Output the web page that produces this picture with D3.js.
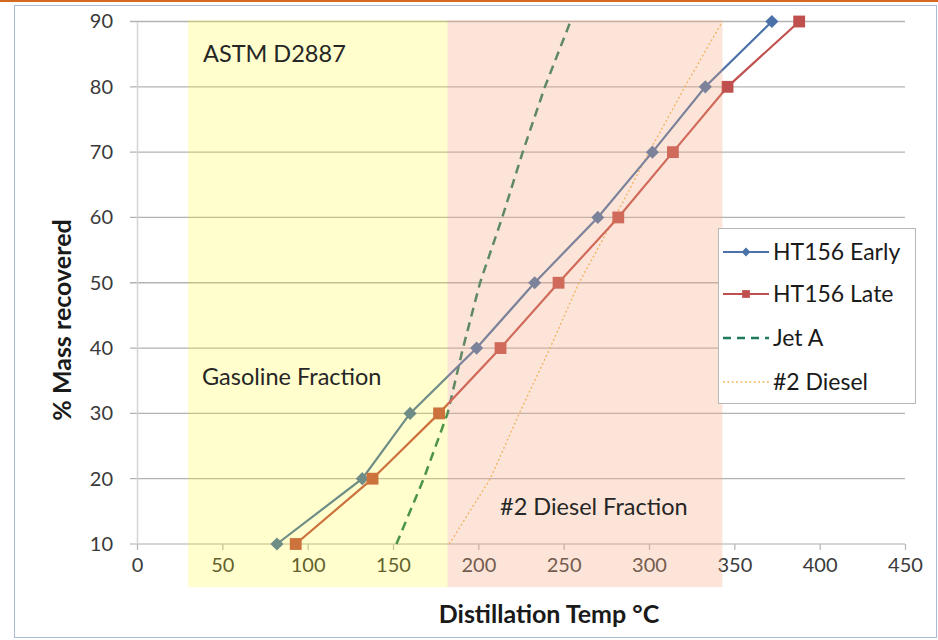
<!DOCTYPE html>
<html>
<head>
<meta charset="utf-8">
<script src="https://cdn.jsdelivr.net/npm/d3@7"></script>
<style>
  body { margin: 0; background: #fff; }
  text { font-family: Lato, "Open Sans", sans-serif; }
</style>
</head>
<body>
<div id="chart"></div>
<script>
var svgWidth = 938;
var svgHeight = 640;

// recovered mass levels (%), shared by every series
var massLevels = [10, 20, 30, 40, 50, 60, 70, 80, 90];

// distillation temperature (deg C)
var earlyTemps = [82, 132, 160, 199, 233, 270, 302, 333, 372];
var lateTemps = [93, 138, 177, 213, 247, 282, 314, 346, 388];
var jetATemps = [152, 168, 182, 191, 201, 214, 226, 239, 254];
var dieselTemps = [183, 207, 224, 242, 259, 280, 300, 321, 343];

var seriesNames = ["HT156 Early", "HT156 Late", "Jet A", "#2 Diesel"];

// shaded fractions (temperature ranges)
var fractionNames = ["Gasoline Fraction", "#2 Diesel Fraction"];
var fractionStart = [30, 182];
var fractionEnd = [182, 343];

var xTicks = [0, 50, 100, 150, 200, 250, 300, 350, 400, 450];
var yTicks = [10, 20, 30, 40, 50, 60, 70, 80, 90];

var svg = d3.select("#chart")
  .append("svg")
  .attr("width", svgWidth)
  .attr("height", svgHeight);

// outer frame
svg.append("rect")
  .attr("x", 0).attr("y", 0)
  .attr("width", svgWidth).attr("height", 2)
  .attr("fill", "#d2691e");

svg.append("rect")
  .attr("x", 14.5).attr("y", 5.5)
  .attr("width", 922).attr("height", 632)
  .attr("fill", "none")
  .attr("stroke", "#a9bcd6");

var x = d3.scaleLinear().domain([0, 450]).range([137, 905]);
var y = d3.scaleLinear().domain([10, 90]).range([544, 21.5]);

// horizontal gridlines
svg.append("g")
  .selectAll("line")
  .data(yTicks)
  .enter()
  .append("line")
  .attr("x1", 130)
  .attr("x2", x(450))
  .attr("y1", d => y(d))
  .attr("y2", d => y(d))
  .attr("stroke", d => d === 10 ? "#c8c8c8" : "#b3b3b3")
  .attr("stroke-width", 1.3);

// y axis
var yAxis = svg.append("g")
  .attr("transform", `translate(${x(0)},0)`)
  .call(d3.axisLeft(y).tickValues(yTicks).tickSize(0).tickPadding(24));
yAxis.select(".domain").attr("stroke", "#d4d4d4").attr("stroke-width", 1.5);
yAxis.selectAll("text")
  .attr("font-family", "Lato, sans-serif")
  .attr("font-size", "20px")
  .attr("fill", "#3a3a3a");

// x axis
var xAxis = svg.append("g")
  .attr("transform", `translate(0,${y(10)})`)
  .call(d3.axisBottom(x).tickValues(xTicks).tickSize(6).tickSizeOuter(0).tickPadding(8));
xAxis.select(".domain").remove();
xAxis.selectAll("line").attr("stroke", "#b8b8b8").attr("stroke-width", 1.3);
xAxis.selectAll("text")
  .attr("font-family", "Lato, sans-serif")
  .attr("font-size", "20px")
  .attr("fill", "#3a3a3a");

function seriesData(temps) {
  return massLevels.map((m, i) => ({ t: temps[i], m: m }));
}

var line = d3.line().x(d => x(d.t)).y(d => y(d.m));

var blue = "#4a72a8";
var red = "#c0504d";
var green = "#1f7a5a";
var orange = "#f2b24e";

// Jet A
svg.append("path")
  .datum(seriesData(jetATemps))
  .attr("d", line)
  .attr("fill", "none")
  .attr("stroke", green)
  .attr("stroke-width", 2.5)
  .attr("stroke-dasharray", "9,6");

// #2 Diesel
svg.append("path")
  .datum(seriesData(dieselTemps))
  .attr("d", line)
  .attr("fill", "none")
  .attr("stroke", orange)
  .attr("stroke-width", 1.4)
  .attr("stroke-dasharray", "1.8,2.6");

// HT156 Early
svg.append("path")
  .datum(seriesData(earlyTemps))
  .attr("d", line)
  .attr("fill", "none")
  .attr("stroke", blue)
  .attr("stroke-width", 2.2);

svg.append("g")
  .selectAll("path")
  .data(seriesData(earlyTemps))
  .enter()
  .append("path")
  .attr("d", d3.symbol(d3.symbolDiamond2, 110))
  .attr("transform", d => `translate(${x(d.t)},${y(d.m)})`)
  .attr("fill", blue);

// HT156 Late
svg.append("path")
  .datum(seriesData(lateTemps))
  .attr("d", line)
  .attr("fill", "none")
  .attr("stroke", red)
  .attr("stroke-width", 2.2);

svg.append("g")
  .selectAll("path")
  .data(seriesData(lateTemps))
  .enter()
  .append("path")
  .attr("d", d3.symbol(d3.symbolSquare, 140))
  .attr("transform", d => `translate(${x(d.t)},${y(d.m)})`)
  .attr("fill", red);

// translucent fraction bands drawn over the plot
var bandFills = ["rgba(255,250,0,0.2)", "rgba(244,170,125,0.3)"];
svg.append("g")
  .selectAll("rect")
  .data(fractionNames)
  .enter()
  .append("rect")
  .attr("x", (d, i) => x(fractionStart[i]))
  .attr("width", (d, i) => x(fractionEnd[i]) - x(fractionStart[i]))
  .attr("y", y(90.2))
  .attr("height", y(3.4) - y(90.2))
  .attr("fill", (d, i) => bandFills[i]);

// band labels
svg.append("text")
  .attr("x", 203).attr("y", 62)
  .attr("font-size", "23.5px")
  .attr("fill", "#262626")
  .text("ASTM D2887");

svg.append("text")
  .attr("x", 202).attr("y", 385)
  .attr("font-size", "23.5px")
  .attr("fill", "#262626")
  .text(fractionNames[0]);

svg.append("text")
  .attr("x", 500).attr("y", 515)
  .attr("font-size", "23.5px")
  .attr("fill", "#262626")
  .text(fractionNames[1]);

// axis titles
svg.append("text")
  .attr("x", 549).attr("y", 623)
  .attr("text-anchor", "middle")
  .attr("font-size", "25px")
  .attr("font-weight", "bold")
  .attr("fill", "#1a1a1a")
  .text("Distillation Temp °C");

svg.append("text")
  .attr("transform", "translate(71,320) rotate(-90)")
  .attr("text-anchor", "middle")
  .attr("font-size", "25px")
  .attr("font-weight", "bold")
  .attr("fill", "#1a1a1a")
  .text("% Mass recovered");

// legend
var legend = svg.append("g").attr("transform", "translate(718,228)");
legend.append("rect")
  .attr("x", 0.5).attr("y", 0.5)
  .attr("width", 197).attr("height", 175)
  .attr("fill", "#fff")
  .attr("stroke", "#b8b8b8");

var legendRows = [24, 66, 110, 154];
var legendStroke = [blue, red, green, orange];
var legendDash = [null, null, "8,6", "1.8,2.6"];
var legendWidth = [2.2, 2.2, 2.5, 1.4];

seriesNames.forEach(function(name, i) {
  var row = legend.append("g").attr("transform", `translate(0,${legendRows[i]})`);
  row.append("line")
    .attr("x1", 5).attr("x2", 51)
    .attr("y1", 0).attr("y2", 0)
    .attr("stroke", legendStroke[i])
    .attr("stroke-width", legendWidth[i])
    .attr("stroke-dasharray", legendDash[i]);
  if (i === 0) {
    row.append("path")
      .attr("d", d3.symbol(d3.symbolDiamond2, 50))
      .attr("transform", "translate(28,0)")
      .attr("fill", blue);
  }
  if (i === 1) {
    row.append("path")
      .attr("d", d3.symbol(d3.symbolSquare, 60))
      .attr("transform", "translate(28,0)")
      .attr("fill", red);
  }
  row.append("text")
    .attr("x", 55).attr("y", 8)
    .attr("font-size", "23px")
    .attr("fill", "#1a1a1a")
    .text(name);
});
</script>
</body>
</html>
